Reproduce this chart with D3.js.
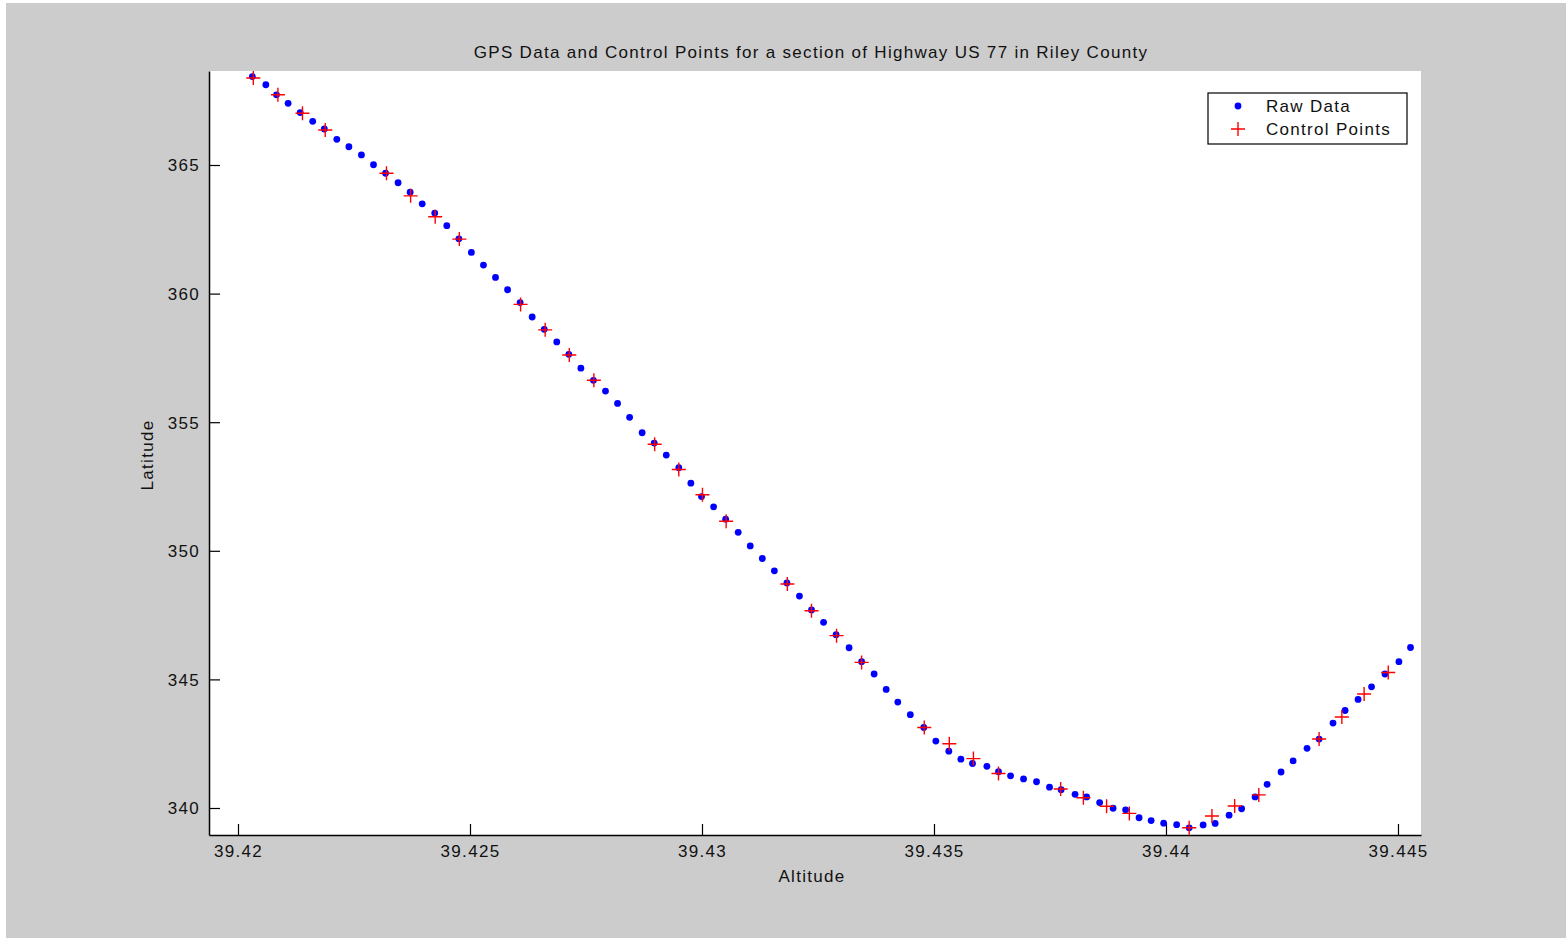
<!DOCTYPE html>
<html lang="en">
<head>
<meta charset="utf-8" />
<title>GPS Data and Control Points</title>
<style>
  * {margin: 0; padding: 0;}
  body {background: #fff; overflow: hidden;}
  svg text {font-family: "Liberation Sans", Arial, Helvetica, sans-serif; fill: #111; letter-spacing: 1.3px;}
</style>
</head>
<body>
<div id="viz"></div>
<script src="https://cdn.jsdelivr.net/npm/d3@7"></script>
<script>

// raw GPS samples
var rawX = [39.42031,39.42060,39.42083,39.42108,39.42134,39.42161,39.42186,39.42213,39.42239,39.42266,
            39.42292,39.42318,39.42345,39.42371,39.42397,39.42424,39.42450,39.42476,39.42503,39.42529,
            39.42555,39.42581,39.42608,39.42634,39.42660,39.42687,39.42713,39.42739,39.42766,39.42792,
            39.42818,39.42844,39.42871,39.42897,39.42923,39.42950,39.42976,39.42999,39.43025,39.43051,
            39.43078,39.43104,39.43130,39.43156,39.43183,39.43210,39.43236,39.43262,39.43289,39.43317,
            39.43344,39.43371,39.43397,39.43422,39.43449,39.43478,39.43504,39.43532,39.43558,39.43583,
            39.43614,39.43639,39.43665,39.43693,39.43721,39.43749,39.43774,39.43804,39.43829,39.43857,
            39.43886,39.43913,39.43942,39.43968,39.43995,39.44023,39.44050,39.44080,39.44106,39.44136,
            39.44163,39.44192,39.44218,39.44248,39.44274,39.44304,39.44330,39.44360,39.44386,39.44414,
            39.44443,39.44472,39.44502,39.44527];
var rawY = [368.44,368.12,367.73,367.40,367.04,366.70,366.40,366.00,365.71,365.39,
            365.01,364.68,364.31,363.94,363.49,363.13,362.64,362.13,361.60,361.11,
            360.63,360.15,359.65,359.09,358.61,358.12,357.64,357.10,356.63,356.21,
            355.73,355.19,354.59,354.19,353.72,353.23,352.63,352.11,351.71,351.23,
            350.72,350.19,349.70,349.22,348.75,348.24,347.70,347.22,346.74,346.23,
            345.69,345.21,344.61,344.12,343.63,343.13,342.60,342.21,341.90,341.73,
            341.62,341.41,341.25,341.13,341.02,340.81,340.71,340.53,340.43,340.21,
            339.99,339.93,339.62,339.51,339.41,339.35,339.23,339.34,339.40,339.72,
            339.97,340.43,340.92,341.40,341.83,342.32,342.68,343.30,343.79,344.22,
            344.71,345.21,345.69,346.24];

// control points
var ctrlX = [39.42033,39.42086,39.42139,39.42188,39.42320,39.42372,39.42425,39.42477,39.42609,39.42662,
             39.42714,39.42767,39.42898,39.42950,39.43001,39.43052,39.43184,39.43236,39.43290,39.43344,
             39.43479,39.43533,39.43585,39.43639,39.43773,39.43822,39.43872,39.43921,39.44050,39.44099,
             39.44148,39.44200,39.44330,39.44379,39.44427,39.44479];
var ctrlY = [368.38,367.73,367.01,366.36,364.68,363.80,362.99,362.12,359.58,358.59,
             357.61,356.63,354.14,353.16,352.18,351.15,348.71,347.67,346.70,345.66,
             343.13,342.50,341.92,341.34,340.74,340.40,340.07,339.79,339.23,339.69,
             340.08,340.51,342.68,343.54,344.43,345.27];

var xTicks = [39.42, 39.425, 39.43, 39.435, 39.44, 39.445];
var yTicks = [340, 345, 350, 355, 360, 365];
var legendLabels = ["Raw Data", "Control Points"];

var W = 1566, H = 938;
var plot = {left: 209, right: 1421, top: 71, bottom: 835};

var svg = d3.select("#viz").append("svg").attr("width", W).attr("height", H);

// grey figure background (white sliver on top/left like the screenshot)
svg.append("rect").attr("x", 6).attr("y", 3).attr("width", W - 6).attr("height", H - 3)
    .style("fill", "#cccccc");
svg.append("rect").attr("x", plot.left).attr("y", plot.top)
    .attr("width", plot.right - plot.left).attr("height", plot.bottom - plot.top)
    .style("fill", "#fff");

var x = d3.scaleLinear().domain([39.419375, 39.445496]).range([plot.left, plot.right]);
var y = d3.scaleLinear().domain([338.95, 368.655]).range([plot.bottom, plot.top]);

// axes, ticks pointing inwards, no end caps
var xAxis = d3.axisBottom(x).tickValues(xTicks).tickSizeInner(-11).tickSizeOuter(0).tickPadding(10)
    .tickFormat(function(d){ return String(+d.toFixed(3)); });
var yAxis = d3.axisLeft(y).tickValues(yTicks).tickSizeInner(-11).tickSizeOuter(0).tickPadding(9)
    .tickFormat(d3.format("d"));

var gx = svg.append("g").attr("transform", "translate(0," + plot.bottom + ")").call(xAxis);
var gy = svg.append("g").attr("transform", "translate(" + plot.left + ",0)").call(yAxis);
[gx, gy].forEach(function(g){
    g.select(".domain").style("stroke", "#000").style("stroke-width", 1.5);
    g.selectAll(".tick line").style("stroke", "#000").style("stroke-width", 1.2);
    g.selectAll(".tick text").style("font-size", "17px")
        .style("font-family", "'Liberation Sans', Arial, sans-serif").style("fill", "#111");
});
gy.selectAll(".tick text").attr("dy", "0.35em");

// raw data dots
svg.append("g").selectAll("circle")
    .data(rawX.map(function(v, i){ return [v, rawY[i]]; }))
    .enter().append("circle")
    .attr("cx", function(d){ return x(d[0]); })
    .attr("cy", function(d){ return y(d[1]); })
    .attr("r", 3.4)
    .style("fill", "#0000ff");

// control points as red plus signs
svg.append("g").selectAll("path")
    .data(ctrlX.map(function(v, i){ return [v, ctrlY[i]]; }))
    .enter().append("path")
    .attr("d", "M-7,0H7M0,-7V7")
    .attr("transform", function(d){ return "translate(" + x(d[0]) + "," + y(d[1]) + ")"; })
    .style("fill", "none").style("stroke", "#ff0000").style("stroke-width", 1.4);

// title and axis labels
svg.append("text").attr("x", (plot.left + plot.right) / 2 - 4).attr("y", 58)
    .attr("text-anchor", "middle").style("font-size", "17px")
    .text("GPS Data and Control Points for a section of Highway US 77 in Riley County");
svg.append("text").attr("x", 812).attr("y", 882)
    .attr("text-anchor", "middle").style("font-size", "17px").text("Altitude");
svg.append("text").attr("transform", "translate(153,455) rotate(-90)")
    .attr("text-anchor", "middle").style("font-size", "17px").text("Latitude");

// legend
var leg = svg.append("g").attr("transform", "translate(1208,93)");
leg.append("rect").attr("width", 199).attr("height", 51)
    .style("fill", "#fff").style("stroke", "#000").style("stroke-width", 1.2);
leg.append("circle").attr("cx", 30).attr("cy", 13).attr("r", 3.4).style("fill", "#0000ff");
leg.append("path").attr("d", "M23,36H37M30,29V43")
    .style("fill", "none").style("stroke", "#ff0000").style("stroke-width", 1.4);
leg.selectAll("text.lbl").data(legendLabels).enter().append("text")
    .attr("class", "lbl")
    .attr("x", 58).attr("y", function(d, i){ return 19 + i * 23; })
    .style("font-size", "17px")
    .text(function(d){ return d; });
</script>
</body>
</html>
